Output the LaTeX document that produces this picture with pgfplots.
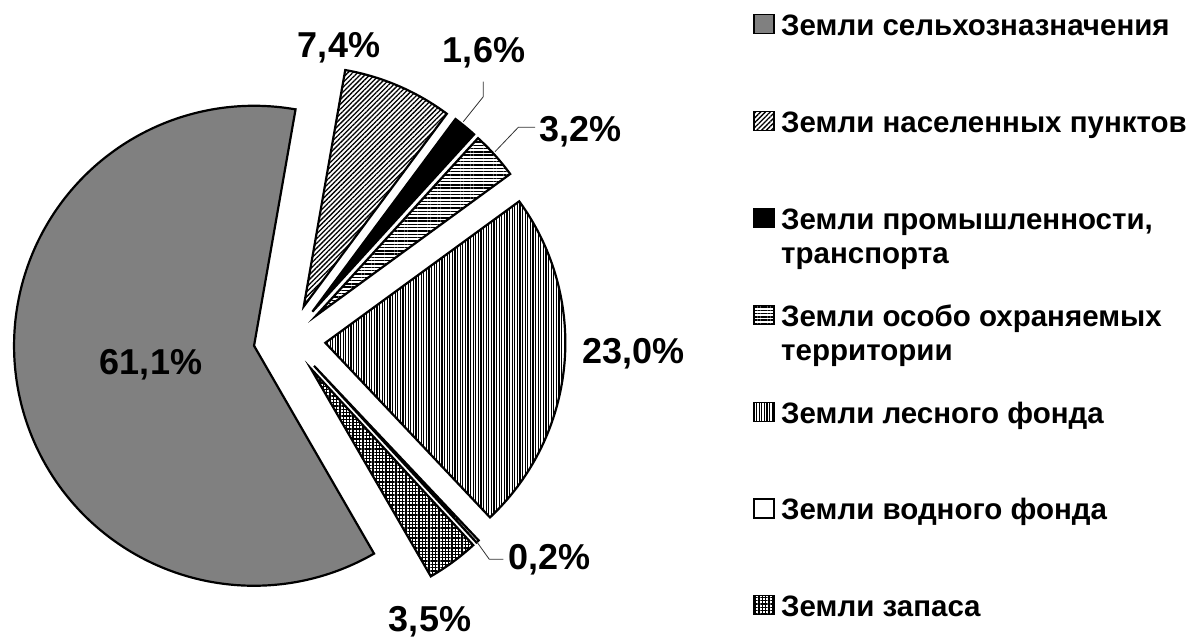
\documentclass[border=0pt]{standalone}
\usepackage{fontspec}
\setmainfont{Liberation Sans}
\usepackage{pgfplots}
\pgfplotsset{compat=1.18}
\usetikzlibrary{patterns.meta}
\definecolor{slicegray}{HTML}{808080}
\tikzset{
  pA/.style={fill=slicegray},
  pB/.style={pattern={Lines[angle=45,distance=3.4pt,line width=1.3pt]}},
  pC/.style={fill=black},
  pD/.style={pattern={Lines[angle=0,distance=3.3pt,line width=1.4pt]}},
  pE/.style={pattern={Lines[angle=90,distance=2.6pt,line width=1.1pt]}},
  pF/.style={fill=white},
  pG/.style={pattern={Hatch[angle=0,distance=3.3pt,line width=1.3pt]}},
}
\begin{document}
\begin{tikzpicture}
% shares, %
\def\vA{61.1}\def\vB{7.4}\def\vC{1.6}\def\vD{3.2}\def\vE{23.0}\def\vF{0.2}\def\vG{3.5}
\def\cx{289.5}\def\cy{297.5}\def\R{240}\def\ex{36}
\pgfmathsetmacro\aA{-60}
\pgfmathsetmacro\bA{\aA-3.6*\vA}
\pgfmathsetmacro\aB{\bA+360}\pgfmathsetmacro\bB{\aB-3.6*\vB}
\pgfmathsetmacro\aC{\bB}\pgfmathsetmacro\bC{\aC-3.6*\vC}
\pgfmathsetmacro\aD{\bC}\pgfmathsetmacro\bD{\aD-3.6*\vD}
\pgfmathsetmacro\aE{\bD}\pgfmathsetmacro\bE{\aE-3.6*\vE}
\pgfmathsetmacro\aF{\bE}\pgfmathsetmacro\bF{\aF-3.6*\vF}
\pgfmathsetmacro\aG{\bF}\pgfmathsetmacro\bG{\aG-3.6*\vG}
\foreach \s in {A,B,C,D,E,F,G}{%
  \pgfmathsetmacro\m{(\csname a\s\endcsname+\csname b\s\endcsname)/2}%
  \pgfmathsetmacro\px{\cx+\ex*cos(\m)}%
  \pgfmathsetmacro\py{\cy+\ex*sin(\m)}%
  \expandafter\xdef\csname x\s\endcsname{\px}%
  \expandafter\xdef\csname y\s\endcsname{\py}%
}
\begin{axis}[width=1188pt,height=637pt,scale only axis,hide axis,
  xmin=0,xmax=1188,ymin=0,ymax=637,clip=false,
  every axis plot/.append style={line width=2.2pt,draw=black,line join=miter}]
\addplot[pA,domain=\bA:\aA,samples=200] ({\xA+\R*cos(x)},{\yA+\R*sin(x)}) -- (axis cs:\xA,\yA) -- cycle;
\addplot[pB,domain=\bB:\aB,samples=40] ({\xB+\R*cos(x)},{\yB+\R*sin(x)}) -- (axis cs:\xB,\yB) -- cycle;
\addplot[pC,domain=\bC:\aC,samples=10] ({\xC+\R*cos(x)},{\yC+\R*sin(x)}) -- (axis cs:\xC,\yC) -- cycle;
\addplot[pD,domain=\bD:\aD,samples=20] ({\xD+\R*cos(x)},{\yD+\R*sin(x)}) -- (axis cs:\xD,\yD) -- cycle;
\addplot[pE,domain=\bE:\aE,samples=100] ({\xE+\R*cos(x)},{\yE+\R*sin(x)}) -- (axis cs:\xE,\yE) -- cycle;
\addplot[pF,domain=\bF:\aF,samples=3] ({\xF+\R*cos(x)},{\yF+\R*sin(x)}) -- (axis cs:\xF,\yF) -- cycle;
\addplot[pG,domain=\bG:\aG,samples=20] ({\xG+\R*cos(x)},{\yG+\R*sin(x)}) -- (axis cs:\xG,\yG) -- cycle;
% leader lines
\addplot[line width=0.8pt,draw=black!80] coordinates {(463.3,515.3) (483.3,540.3) (483.3,555.3)};
\addplot[line width=0.8pt,draw=black!80] coordinates {(495,485.3) (518.3,509.7) (535,509.7)};
\addplot[line width=0.8pt,draw=black!80] coordinates {(476.7,95.3) (489.3,77.7) (503.3,77.7)};
% data labels
\begin{scope}[every node/.style={font=\fontsize{36}{40}\selectfont\bfseries,inner sep=0pt}]
\node[anchor=base] at (axis cs:151,262) {61,1\%};
\node[anchor=base] at (axis cs:339,579) {7,4\%};
\node[anchor=base] at (axis cs:484,574) {1,6\%};
\node[anchor=base west] at (axis cs:539,495) {3,2\%};
\node[anchor=base] at (axis cs:633.5,273) {23,0\%};
\node[anchor=base west] at (axis cs:508,67) {0,2\%};
\node[anchor=base] at (axis cs:430,6) {3,5\%};
\end{scope}
% legend
\begin{scope}[every node/.style={font=\fontsize{29.5}{34}\selectfont\bfseries,inner sep=0pt,anchor=base west}]
\draw[pA,line width=1.5pt] (axis cs:754,603.5) rectangle (axis cs:774,622.5);
\node at (axis cs:781,601.5) {Земли сельхозназначения};
\draw[pB,line width=1.5pt] (axis cs:754,506.5) rectangle (axis cs:774,525.5);
\node at (axis cs:781,504.5) {Земли населенных пунктов};
\draw[pC,line width=1.5pt] (axis cs:754,409.5) rectangle (axis cs:774,428.5);
\node at (axis cs:781,407.5) {Земли промышленности,};
\node at (axis cs:781,373.5) {транспорта};
\draw[pD,line width=1.5pt] (axis cs:754,312.5) rectangle (axis cs:774,331.5);
\node at (axis cs:781,310.5) {Земли особо охраняемых};
\node at (axis cs:781,276.5) {территории};
\draw[pE,line width=1.5pt] (axis cs:754,215.5) rectangle (axis cs:774,234.5);
\node at (axis cs:781,213.5) {Земли лесного фонда};
\draw[pF,line width=1.5pt] (axis cs:754,119) rectangle (axis cs:774,138);
\node at (axis cs:781,117) {Земли водного фонда};
\draw[pG,line width=1.5pt] (axis cs:754,22.5) rectangle (axis cs:774,41.5);
\node at (axis cs:781,20.5) {Земли запаса};
\end{scope}
\end{axis}
\pgfresetboundingbox
\path (0,0) rectangle (1188pt,637pt);
\end{tikzpicture}
\end{document}
